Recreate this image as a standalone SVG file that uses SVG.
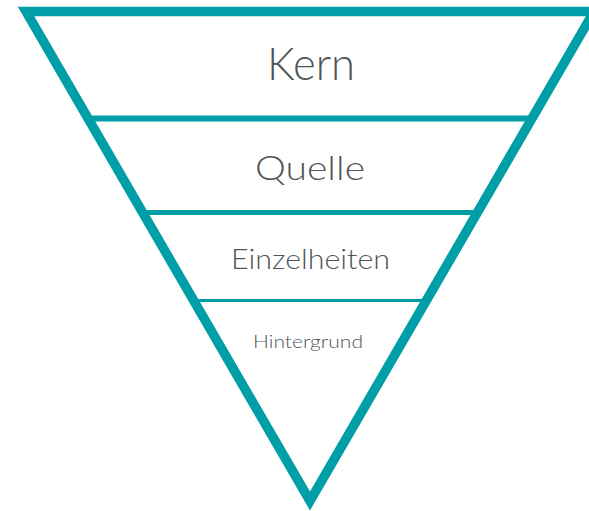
<svg xmlns="http://www.w3.org/2000/svg" width="589" height="511" viewBox="0 0 589 511">
  <style>
    .band { stroke: #009ea7; fill: none; }
    .label { font-family: Lato, "Noto Sans", "DejaVu Sans", sans-serif; font-weight: 300; fill: #4f5559; text-anchor: middle; }
  </style>
  <rect width="589" height="511" fill="#ffffff"/>
  <!-- dividers between levels -->
  <g id="dividers">
    <line class="band" x1="88" y1="118.5" x2="532" y2="118.5" stroke-width="6"/>
    <line class="band" x1="143" y1="212.5" x2="477" y2="212.5" stroke-width="5"/>
    <line class="band" x1="194" y1="300.5" x2="426" y2="300.5" stroke-width="3"/>
  </g>
  <!-- outer funnel -->
  <g id="funnel">
    <path class="band" d="M26,11.5 L594,11.5 L310,501 Z" stroke-width="9.5" stroke-linejoin="miter" stroke-miterlimit="10"/>
  </g>
  <g id="kern">
    <text class="label" x="311" y="80" font-size="45" textLength="88" lengthAdjust="spacingAndGlyphs">Kern</text>
  </g>
  <g id="quelle">
    <text class="label" x="310" y="180" font-size="34" textLength="110" lengthAdjust="spacingAndGlyphs">Quelle</text>
  </g>
  <g id="einzelheiten">
    <text class="label" x="310.5" y="269" font-size="28" textLength="159" lengthAdjust="spacingAndGlyphs">Einzelheiten</text>
  </g>
  <g id="hintergrund">
    <text class="label" x="308" y="348" font-size="18.5" textLength="110" lengthAdjust="spacingAndGlyphs">Hintergrund</text>
  </g>
</svg>
